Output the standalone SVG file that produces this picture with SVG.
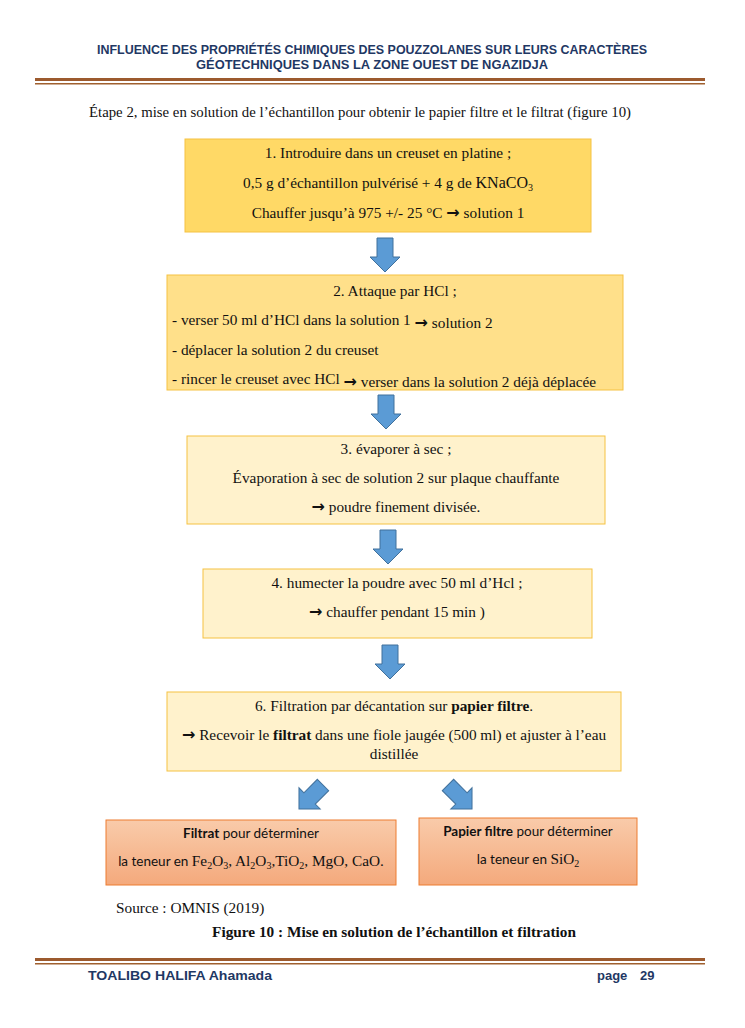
<svg xmlns="http://www.w3.org/2000/svg" width="745" height="1028" viewBox="0 0 745 1028">
<style>
.hdr{font-family:"Liberation Sans",Arial,sans-serif;font-weight:bold;fill:#1F3864;}
.t{font-family:"Liberation Serif","Times New Roman",serif;font-size:15.3px;fill:#111;}
.c{font-family:Lato,"Open Sans","Liberation Sans",sans-serif;font-size:13.5px;fill:#111;}
.ts{font-family:"Liberation Serif","Times New Roman",serif;font-size:15.3px;}
.sub{font-family:"Liberation Serif","Times New Roman",serif;font-size:10px;}
.ar{font-family:"DejaVu Sans",sans-serif;font-weight:bold;font-size:16px;}
.mid{text-anchor:middle;}
.arrow{fill:#5B9BD5;stroke:#41719C;stroke-width:1;}
</style>
<defs>
<linearGradient id="salmon" x1="0" y1="0" x2="0" y2="1">
<stop offset="0" stop-color="#F9CBAA"/>
<stop offset="1" stop-color="#F4A97C"/>
</linearGradient>
<path id="dn" d="M-8,-17 h16 v19 h7 l-15,15 l-15,-15 h7 z"/>
</defs>
<rect width="745" height="1028" fill="#fff"/>

<g id="header">
<text class="hdr mid" x="372" y="54" font-size="12" textLength="550" lengthAdjust="spacingAndGlyphs">INFLUENCE DES PROPRIÉTÉS CHIMIQUES DES POUZZOLANES SUR LEURS CARACTÈRES</text>
<text class="hdr mid" x="372" y="69" font-size="12" textLength="352" lengthAdjust="spacingAndGlyphs">GÉOTECHNIQUES DANS LA ZONE OUEST DE NGAZIDJA</text>
<rect x="35" y="78" width="670" height="3" fill="#9C5A2E"/>
<rect x="35" y="83" width="670" height="1.5" fill="#A0602F"/>
</g>

<text class="t" x="89" y="117" style="font-size:14.8px">Étape 2, mise en solution de l’échantillon pour obtenir le papier filtre et le filtrat (figure 10)</text>

<g id="step1">
<rect x="185" y="139" width="406" height="93" fill="#FFD966" stroke="#F5C242" stroke-width="1"/>
<text class="t mid" x="388" y="158">1.   Introduire dans un creuset en platine ;</text>
<text class="t mid" x="388" y="188">0,5 g d’échantillon pulvérisé + 4 g de <tspan style="font-size:16px">KNaCO</tspan><tspan class="sub" dy="3">3</tspan></text>
<text class="t mid" x="388" y="218">Chauffer jusqu’à 975 +/- 25 °C <tspan class="ar">→</tspan> solution 1</text>
</g>

<g id="step2">
<rect x="167" y="275" width="456" height="115" fill="#FFE08A" stroke="#F5C242" stroke-width="1"/>
<text class="t mid" x="395" y="296">2. Attaque par HCl ;</text>
<text class="t" x="172" y="325">- verser 50 ml d’HCl dans la solution 1 <tspan class="ar" dy="3">→</tspan> solution 2</text>
<text class="t" x="172" y="355">- déplacer la solution 2 du creuset</text>
<text class="t" x="172" y="384">- rincer le creuset avec HCl  <tspan class="ar" dy="3">→</tspan> verser dans la solution 2 déjà déplacée</text>
</g>

<g id="step3">
<rect x="187" y="436" width="418" height="88" fill="#FFF2CC" stroke="#F5C242" stroke-width="1"/>
<text class="t mid" x="396" y="454">3. évaporer à sec ;</text>
<text class="t mid" x="396" y="483">Évaporation à sec de solution 2 sur plaque chauffante</text>
<text class="t mid" x="396" y="512"><tspan class="ar">→</tspan> poudre finement divisée.</text>
</g>

<g id="step4">
<rect x="203" y="569" width="389" height="69" fill="#FFF2CC" stroke="#F5C242" stroke-width="1"/>
<text class="t mid" x="397" y="588">4. humecter la poudre avec 50 ml d’Hcl ;</text>
<text class="t mid" x="397" y="617"><tspan class="ar">→</tspan> chauffer pendant 15 min )</text>
</g>

<g id="step6">
<rect x="167" y="692" width="454" height="79" fill="#FFF2CC" stroke="#F5C242" stroke-width="1"/>
<text class="t mid" x="394" y="711">6. Filtration par décantation sur <tspan font-weight="bold">papier filtre</tspan>.</text>
<text class="t mid" x="394" y="740"><tspan class="ar">→</tspan> Recevoir le <tspan font-weight="bold">filtrat</tspan> dans une fiole jaugée (500 ml) et ajuster à l’eau</text>
<text class="t mid" x="394" y="759">distillée</text>
</g>

<g id="filtrat">
<rect x="106" y="820" width="290" height="65" fill="url(#salmon)" stroke="#ED7D31" stroke-width="1"/>
<text class="c mid" x="251" y="838"><tspan font-weight="bold">Filtrat</tspan> pour déterminer</text>
<text class="c mid" x="251" y="866">la teneur en <tspan class="ts">Fe</tspan><tspan class="sub" dy="3">2</tspan><tspan class="ts" dy="-3">O</tspan><tspan class="sub" dy="3">3</tspan><tspan class="ts" dy="-3">, Al</tspan><tspan class="sub" dy="3">2</tspan><tspan class="ts" dy="-3">O</tspan><tspan class="sub" dy="3">3</tspan><tspan class="ts" dy="-3">,TiO</tspan><tspan class="sub" dy="3">2</tspan><tspan class="ts" dy="-3">, MgO, CaO.</tspan></text>
</g>

<g id="papier">
<rect x="419" y="818" width="218" height="67" fill="url(#salmon)" stroke="#ED7D31" stroke-width="1"/>
<text class="c mid" x="528" y="836"><tspan font-weight="bold">Papier filtre</tspan> pour déterminer</text>
<text class="c mid" x="528" y="864">la teneur en <tspan class="ts">SiO</tspan><tspan class="sub" dy="3">2</tspan></text>
</g>

<g id="connectors">
<use href="#dn" class="arrow" transform="translate(385,255)"/>
<use href="#dn" class="arrow" transform="translate(386,412)"/>
<use href="#dn" class="arrow" transform="translate(388,547)"/>
<use href="#dn" class="arrow" transform="translate(390,662)"/>
<use href="#dn" class="arrow" transform="translate(311,797) rotate(45)"/>
<use href="#dn" class="arrow" transform="translate(460,797) rotate(-45)"/>
</g>

<text class="t" x="116" y="913">Source : OMNIS (2019)</text>
<text class="t mid" x="394" y="937" font-weight="bold">Figure 10 : Mise en solution de l’échantillon et filtration</text>

<g id="footer">
<rect x="35" y="958" width="670" height="3" fill="#9C5A2E"/>
<rect x="35" y="963" width="670" height="1.5" fill="#A0602F"/>
<text class="hdr" x="88" y="980" font-size="13" textLength="184" lengthAdjust="spacingAndGlyphs">TOALIBO HALIFA Ahamada</text>
<text class="hdr" x="597" y="980" font-size="13">page</text>
<text class="hdr" x="640" y="980" font-size="13">29</text>
</g>
</svg>
